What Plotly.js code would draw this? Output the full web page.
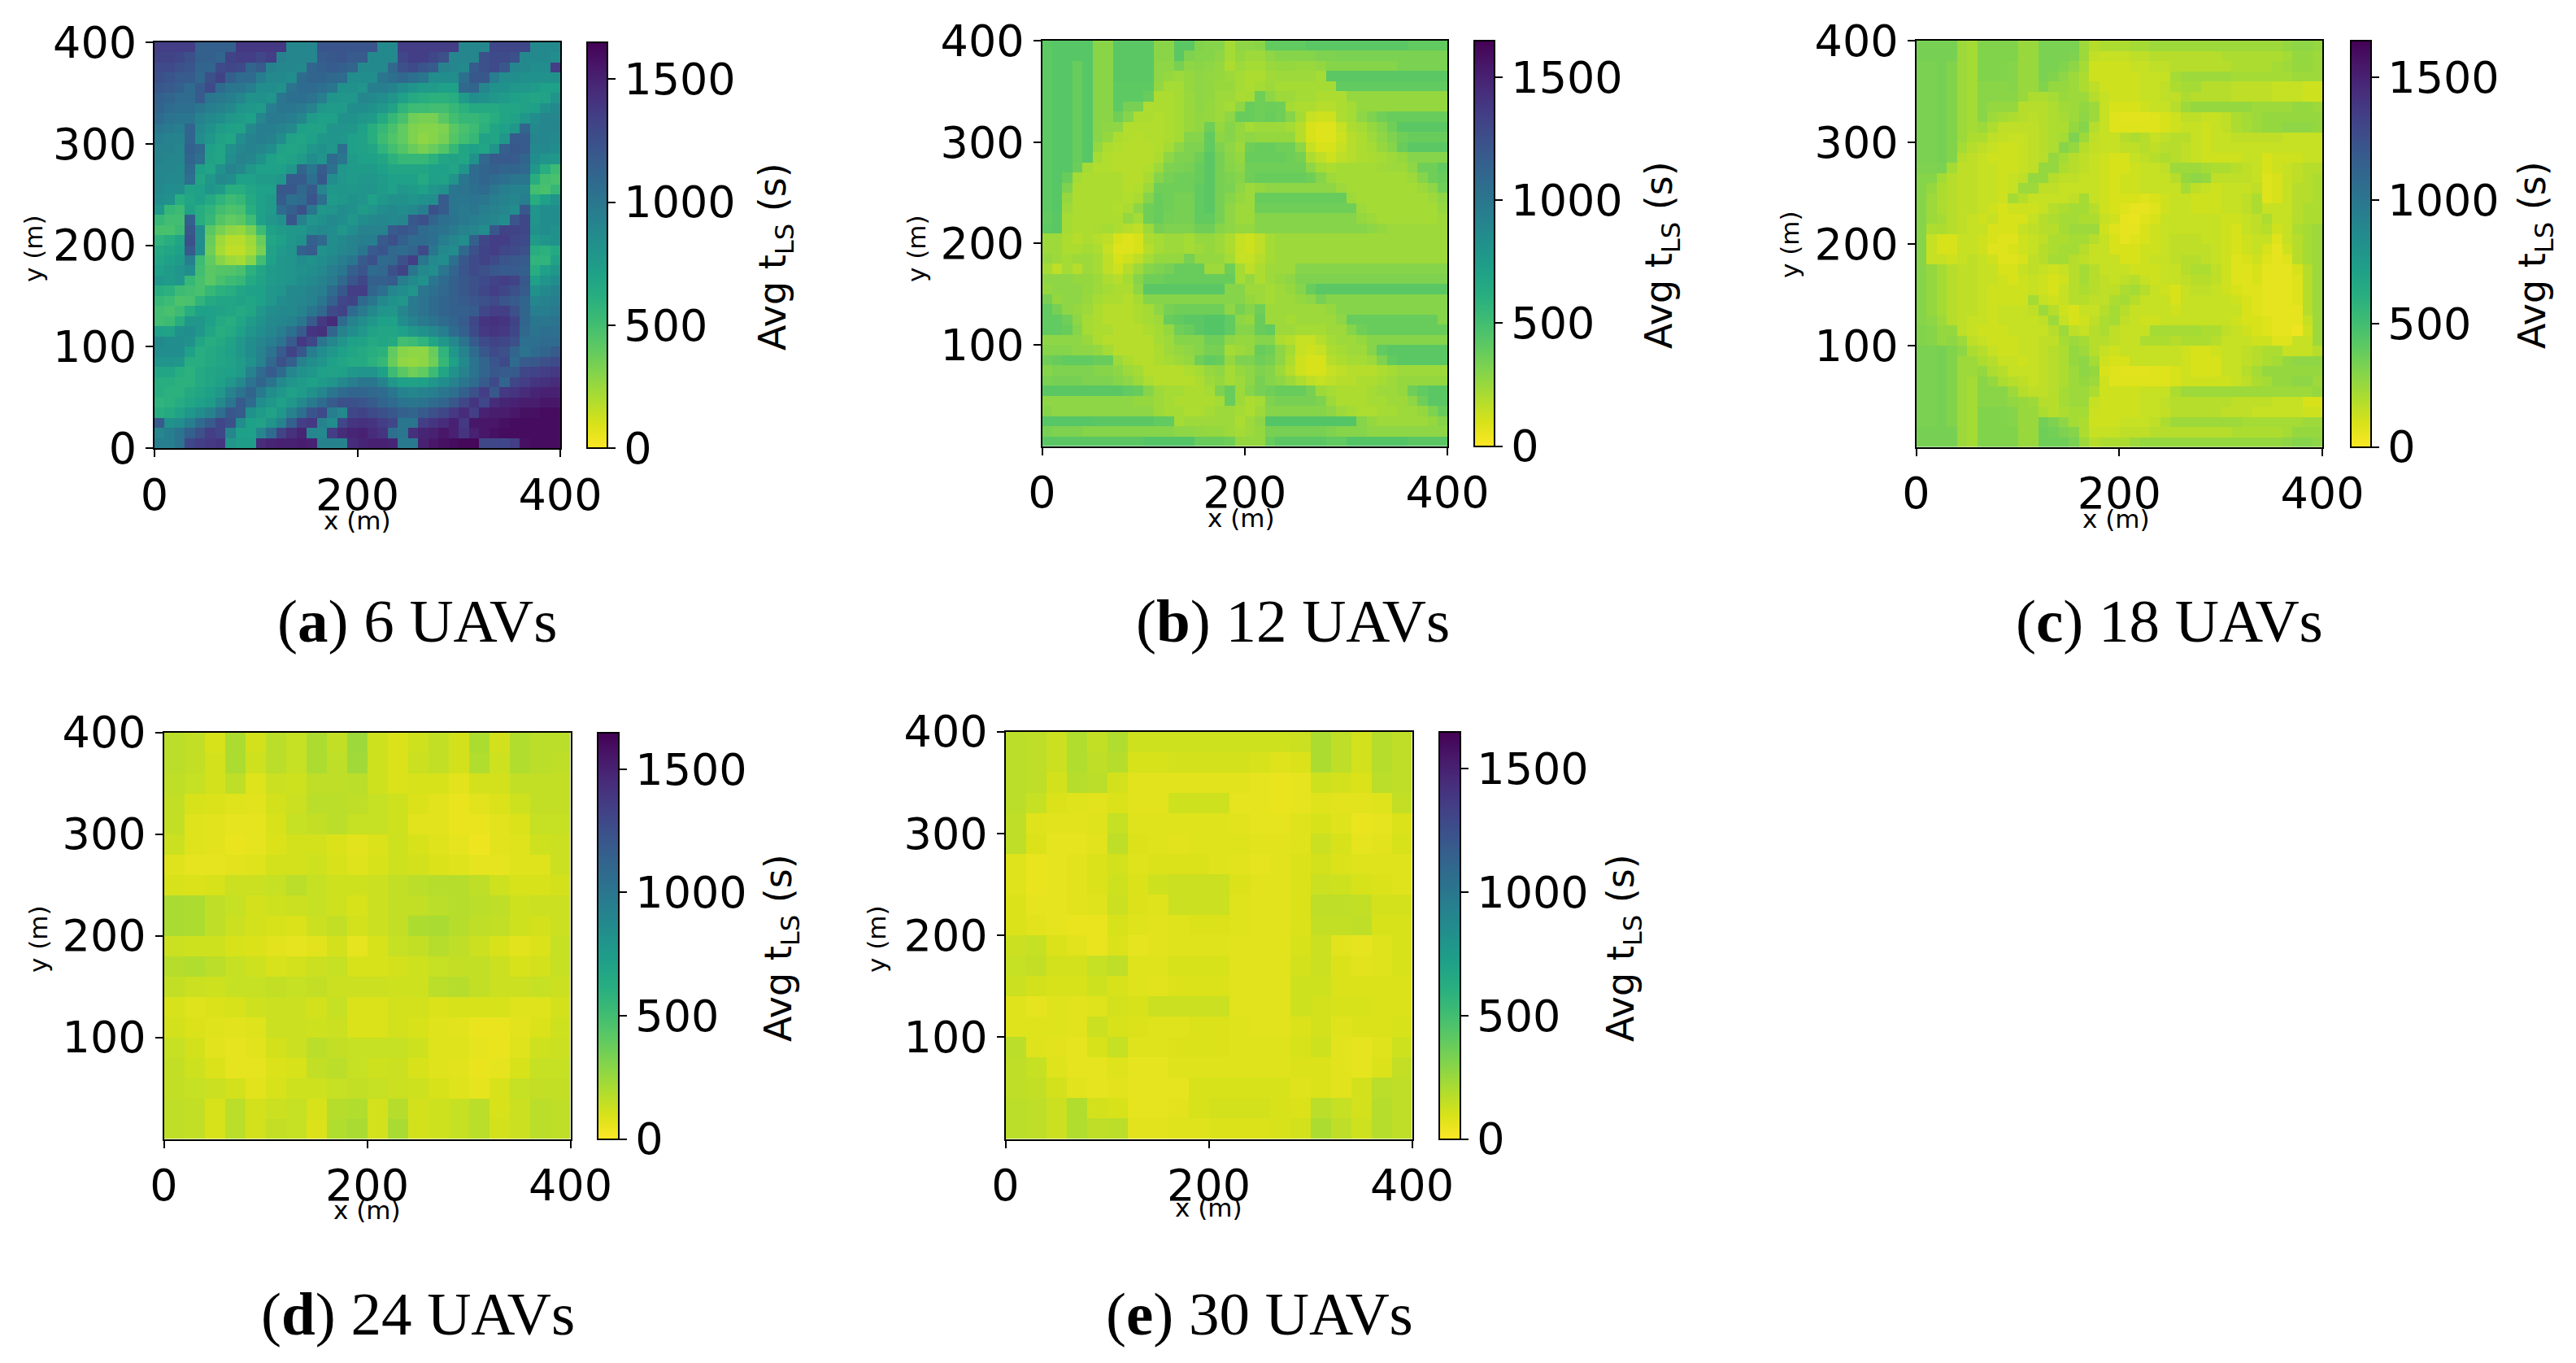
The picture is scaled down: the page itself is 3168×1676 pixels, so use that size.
<!DOCTYPE html>
<html><head><meta charset="utf-8">
<script src="https://cdn.plot.ly/plotly-3.0.1.min.js"></script>
<style>html,body{margin:0;padding:0;background:#fff}</style></head>
<body><div id="chart" style="width:3168px;height:1676px"></div>
<script>
// All grids: rows listed from top (y high) to bottom (y low), values in tens of seconds.
const heatA = [
[135,135,135,135,115,115,115,115,138,138,138,138,138,90,90,90,122,122,122,122,122,122,88,88,135,135,135,135,135,135,90,90,90,130,130,130,130,88,88,88],
[132,132,130,125,115,115,112,132,135,135,130,135,92,90,90,90,118,120,122,118,118,88,88,88,130,135,135,130,125,90,90,90,125,128,128,125,88,88,88,85],
[128,128,125,122,112,112,128,130,128,112,118,92,90,90,88,112,115,118,115,112,88,88,88,110,125,128,122,118,92,90,88,118,125,128,120,90,88,85,85,135],
[125,122,118,118,110,125,132,115,108,108,95,88,88,85,108,112,112,110,108,85,85,85,100,105,110,105,100,85,85,85,105,120,120,95,85,85,82,82,82,82],
[120,118,115,108,118,128,108,100,100,95,85,85,82,102,108,108,105,100,82,82,80,95,95,92,85,80,75,75,72,72,110,112,90,82,82,78,78,75,72,72],
[115,112,108,108,118,100,98,95,90,82,82,80,100,105,105,102,95,80,78,78,90,88,85,80,72,65,62,60,60,62,75,85,82,78,75,72,70,68,70,80],
[112,108,105,105,100,95,92,88,80,78,75,95,100,100,98,92,78,75,75,85,85,82,78,70,58,52,52,50,50,55,60,65,65,65,68,68,70,72,82,88],
[108,102,100,100,92,88,85,78,75,72,90,98,98,95,90,75,72,72,82,82,78,75,65,55,48,36,34,34,42,50,55,55,58,62,68,70,78,85,90,90],
[100,98,95,112,88,82,75,72,70,88,95,95,92,88,72,70,70,80,80,78,72,62,55,48,40,32,30,30,32,42,48,52,60,68,72,78,112,88,90,90],
[95,92,92,112,85,78,70,68,85,92,95,92,85,70,68,72,78,80,78,72,70,62,52,45,40,32,28,30,34,44,50,55,70,68,78,118,118,90,90,88],
[92,92,90,115,110,72,68,82,90,92,90,85,70,68,70,78,82,78,105,72,70,68,58,50,44,38,34,38,44,55,68,72,68,80,115,120,118,88,88,85],
[92,90,90,112,105,70,68,85,92,90,82,72,68,70,75,85,80,108,100,75,72,72,68,60,55,55,55,60,68,70,68,82,110,118,118,118,112,85,80,78],
[90,90,88,108,72,68,82,92,88,78,72,72,72,78,112,100,118,105,78,75,75,75,72,68,68,68,68,72,72,68,80,108,112,115,112,112,110,78,62,52],
[90,88,88,105,68,78,88,85,72,72,75,75,78,118,118,105,120,85,78,75,78,78,75,72,72,72,65,72,70,80,100,108,112,108,105,100,100,62,50,48],
[88,85,85,70,72,80,75,62,62,68,72,72,120,120,110,118,90,78,80,78,80,80,75,72,78,75,72,78,82,100,102,105,108,100,95,92,92,50,48,55],
[85,82,62,68,72,65,58,52,55,65,72,75,118,105,108,122,105,75,78,82,80,72,78,82,82,80,82,85,118,100,100,102,100,95,92,90,95,62,72,80],
[78,55,52,70,62,58,50,46,48,62,72,75,108,115,125,100,78,80,85,82,75,80,85,88,85,88,95,125,118,100,98,100,95,92,90,85,120,80,85,85],
[55,50,50,115,62,55,44,40,42,52,72,78,82,122,92,80,82,88,85,78,85,88,90,88,90,120,125,112,105,102,98,95,92,90,85,122,130,80,85,85],
[48,48,52,120,85,42,34,28,26,34,52,72,75,78,78,85,88,85,78,85,92,92,92,118,122,118,108,105,102,98,92,90,85,120,132,132,130,82,85,82],
[58,62,68,125,85,38,24,18,18,24,38,68,72,78,82,115,110,85,88,92,95,95,118,125,115,108,108,105,95,90,85,115,130,135,135,130,128,75,80,82],
[65,68,72,118,85,36,22,16,16,22,34,70,76,80,115,118,82,85,90,92,100,118,122,110,108,112,128,100,88,85,110,125,132,135,130,128,125,62,60,65],
[68,72,75,95,52,40,30,24,22,30,50,72,78,80,85,82,85,90,95,100,118,125,108,110,125,135,100,88,85,105,120,128,132,128,122,120,118,58,58,70],
[72,75,80,85,50,42,44,45,48,60,68,75,78,80,82,85,88,95,100,115,122,108,110,125,132,100,88,85,100,112,122,128,125,120,118,118,115,62,72,78],
[78,75,78,55,48,42,48,52,55,65,70,75,78,80,85,88,92,98,110,122,130,115,115,118,95,88,82,100,108,115,120,125,128,132,135,132,120,72,80,85],
[62,60,52,50,48,55,60,62,68,72,72,78,80,88,88,92,95,108,120,135,135,112,105,90,85,80,100,105,110,115,120,125,130,135,130,125,118,82,88,92],
[55,52,46,48,58,65,68,68,70,68,72,78,85,88,90,92,100,115,130,132,108,100,88,82,78,98,102,108,112,115,118,122,125,128,122,118,112,90,92,95],
[50,48,52,62,72,72,70,68,65,68,78,85,88,88,92,100,110,128,132,108,98,88,80,78,90,98,102,108,112,115,115,118,130,135,135,125,112,95,95,98],
[50,52,62,78,78,72,65,62,68,75,82,88,90,92,100,118,138,145,108,92,85,78,72,72,85,92,98,102,108,112,118,130,140,142,140,132,112,100,100,102],
[72,70,82,85,78,68,62,65,72,80,85,90,95,105,118,140,142,112,92,85,78,70,68,68,72,78,82,88,95,108,115,128,138,140,138,130,110,102,105,105],
[88,85,85,82,68,62,65,70,78,85,90,95,102,118,138,130,100,90,80,72,70,65,68,65,50,52,58,68,78,88,102,118,128,132,130,125,105,105,108,108],
[85,85,85,72,62,65,68,72,78,85,92,102,118,132,120,95,85,78,72,68,65,62,60,40,30,28,28,38,58,78,92,108,120,128,125,112,102,108,112,118],
[80,80,78,62,62,65,68,70,75,82,92,110,125,115,92,85,80,72,68,65,65,60,55,38,28,26,28,36,55,72,88,102,112,122,128,108,118,120,125,128],
[68,68,62,60,65,68,70,72,75,92,108,118,108,90,82,78,72,70,72,78,80,80,72,52,42,36,40,52,68,82,92,102,112,120,118,118,130,132,135,138],
[62,62,60,60,65,68,72,78,88,102,112,102,88,80,75,72,75,80,88,95,100,100,92,78,72,70,72,78,85,92,100,108,118,128,112,130,135,140,142,145],
[62,60,60,65,68,72,78,92,102,112,98,85,78,72,75,82,90,100,108,112,112,110,108,100,92,90,92,95,100,105,115,125,135,120,138,140,145,148,150,150],
[58,60,64,68,72,75,88,100,118,108,85,78,72,78,88,98,108,118,125,125,122,118,112,108,102,100,102,108,112,120,130,140,130,145,148,150,152,152,155,155],
[62,65,70,78,85,92,105,120,118,82,75,70,78,92,105,122,128,95,88,130,132,128,125,120,115,112,118,125,130,138,145,135,150,152,152,155,158,158,160,160],
[118,82,85,95,108,118,130,125,85,72,70,80,92,115,135,138,92,85,130,140,142,140,135,130,100,100,135,140,145,150,138,155,155,155,158,160,160,160,160,160],
[90,95,102,115,125,135,130,90,72,72,90,108,132,142,148,90,88,135,145,148,150,145,140,105,100,142,148,150,155,150,140,150,155,158,160,160,160,160,160,160],
[95,95,102,130,135,138,140,78,74,74,145,148,150,150,152,150,92,92,92,145,148,150,150,148,98,98,150,155,158,160,162,162,130,130,130,135,158,160,160,160]
];
const heatB = [
[41,43,43,43,43,29,29,42,42,42,42,29,29,42,42,31,30,30,22,28,28,29,40,40,40,40,42,42,42,42,42,42,42,42,42,42,40,40,40,40],
[41,43,43,43,43,29,29,42,42,42,42,29,29,42,32,30,30,28,22,26,24,24,28,30,30,30,30,32,32,33,33,33,33,33,33,33,33,33,33,33],
[41,43,43,38,43,29,29,42,42,42,42,28,28,34,28,29,28,26,20,24,22,22,25,26,26,25,25,27,30,30,30,30,30,30,30,33,33,33,33,33],
[41,43,43,38,43,29,29,42,42,42,42,28,26,24,26,28,27,26,24,22,20,20,23,24,24,24,24,22,42,42,42,42,42,42,42,42,42,42,42,42],
[41,43,43,38,43,29,29,41,41,41,41,27,22,22,26,28,27,25,25,22,20,22,24,22,22,22,22,22,22,40,40,40,40,40,40,40,40,40,40,40],
[41,43,43,38,43,29,29,41,41,41,38,20,20,22,25,28,27,24,24,21,22,36,28,24,24,22,22,20,20,20,26,26,26,26,26,26,26,26,26,26],
[41,43,43,38,43,29,29,41,34,34,20,20,20,22,25,28,26,24,22,28,38,36,37,36,22,20,20,18,18,20,22,26,26,26,26,26,26,26,26,26],
[41,43,43,38,43,29,29,36,30,20,20,19,20,22,25,27,26,24,28,38,38,36,38,36,30,22,14,12,12,20,22,28,32,36,38,38,38,38,38,38],
[41,43,43,38,43,29,28,28,19,19,19,19,20,22,25,27,36,26,30,26,22,24,24,24,22,18,10,8,8,14,20,22,26,30,36,42,42,42,42,42],
[41,43,43,38,43,29,26,20,19,18,19,19,20,22,30,30,40,28,30,26,28,26,26,26,26,18,10,8,8,12,18,20,24,28,32,36,38,38,38,38],
[41,43,43,38,43,26,20,19,18,18,18,19,22,28,32,32,40,32,28,24,36,38,38,36,36,28,14,10,10,14,18,20,22,26,30,38,42,42,42,42],
[41,43,43,38,43,22,19,18,18,18,18,20,28,32,32,36,42,34,29,26,38,38,38,38,36,34,20,16,12,16,18,20,21,22,24,26,30,30,30,30],
[41,43,43,37,22,19,19,18,18,18,19,24,32,33,34,38,42,34,30,28,36,36,36,36,36,36,28,22,20,22,22,22,22,23,24,24,28,36,36,40],
[41,43,38,22,20,20,20,20,18,18,21,30,34,36,36,38,42,34,32,30,36,38,38,38,38,38,36,30,24,22,22,22,22,22,22,22,24,30,36,38],
[41,43,32,20,20,20,20,20,18,19,24,36,36,36,36,40,42,34,33,28,24,26,28,28,28,28,28,28,28,24,22,22,22,22,22,22,22,24,28,36],
[41,43,26,20,20,20,20,20,19,21,30,38,36,34,34,40,42,34,30,26,24,38,38,38,38,38,38,38,38,38,24,22,22,22,22,22,22,22,24,28],
[41,43,24,20,20,20,20,19,21,28,36,38,36,34,34,40,42,34,28,24,24,36,36,36,36,36,36,36,36,36,36,24,22,22,22,22,22,22,22,26],
[40,42,22,20,20,20,20,20,26,22,36,38,35,34,34,40,40,34,28,24,24,30,30,30,30,30,30,30,30,30,30,26,24,22,22,22,22,22,22,24],
[41,42,22,20,20,21,22,20,18,16,24,34,32,32,32,36,36,30,28,26,26,30,30,30,30,30,30,30,30,30,30,30,28,26,24,24,24,24,24,24],
[24,24,20,18,20,18,16,10,8,10,20,22,24,24,22,26,26,24,20,14,12,16,22,24,24,24,24,24,24,24,24,24,24,24,24,24,24,24,24,24],
[24,24,20,20,22,20,14,8,8,10,18,22,24,24,22,24,26,24,20,14,12,16,22,24,24,24,24,24,24,24,24,24,24,24,24,24,24,24,24,24],
[26,24,22,24,24,22,16,10,12,16,22,26,26,26,34,26,26,26,22,14,14,18,22,24,24,24,24,24,24,24,24,24,24,24,24,24,24,24,24,24],
[22,16,22,18,24,22,16,12,18,24,30,32,34,38,38,38,24,24,36,22,16,20,24,24,24,30,30,30,30,30,30,30,30,30,30,30,30,30,30,30],
[28,28,28,26,26,24,20,18,22,30,36,36,38,38,38,38,38,38,38,22,26,20,24,26,28,32,32,32,32,32,32,32,32,32,32,32,32,32,32,32],
[26,28,28,28,26,24,22,20,20,28,42,42,42,42,42,42,42,42,30,30,24,24,22,24,26,30,38,42,42,42,42,42,42,42,42,42,42,42,42,42],
[34,26,28,28,25,22,20,20,18,22,30,30,30,30,30,30,30,30,30,30,26,24,22,24,24,26,28,34,30,30,30,30,30,30,30,30,30,30,30,30],
[40,34,28,26,24,20,18,18,18,20,22,28,34,36,36,36,36,36,28,34,30,36,24,24,24,24,24,24,26,30,30,30,30,30,30,30,30,30,30,30],
[40,40,36,28,22,20,18,18,18,20,22,24,38,40,42,42,44,44,40,28,26,38,24,24,22,24,24,24,24,28,38,38,38,38,38,38,38,38,38,30],
[40,40,38,30,22,20,20,18,18,18,20,22,26,36,38,42,44,44,40,30,30,38,40,24,24,22,22,22,24,24,30,36,38,38,38,38,38,38,38,38],
[28,28,28,28,25,20,18,18,18,18,18,22,24,30,30,30,36,36,28,26,26,30,30,20,18,14,14,18,22,24,24,26,30,30,30,30,30,30,30,30],
[30,30,30,28,28,26,22,18,18,18,18,20,24,26,28,30,34,34,22,24,26,38,36,28,22,14,12,14,20,22,24,24,30,40,42,42,42,42,42,42],
[36,38,40,40,40,38,38,24,20,18,18,20,22,24,26,36,40,38,26,32,32,36,34,28,20,12,10,10,18,20,22,22,24,32,40,42,42,42,42,42],
[30,32,32,32,32,30,30,28,24,22,18,18,18,18,20,22,26,28,22,26,28,32,30,24,18,12,10,10,14,16,18,18,18,20,22,24,24,24,24,24],
[33,34,34,34,32,32,32,30,28,24,20,18,18,18,18,20,24,26,22,24,28,34,30,28,24,20,16,14,16,18,18,20,20,22,24,26,26,26,26,26],
[42,42,42,42,42,42,42,42,40,38,30,24,22,22,20,20,22,32,38,24,30,34,36,38,38,38,34,24,22,20,20,20,22,24,24,26,36,40,42,42],
[28,28,28,28,28,28,28,28,28,26,26,24,22,20,20,20,20,22,38,24,20,22,32,34,34,34,34,32,24,20,20,20,22,22,24,24,28,36,42,42],
[30,28,28,28,28,28,28,28,28,28,28,24,22,22,20,20,22,24,24,22,20,24,30,30,30,30,30,30,28,24,22,20,20,22,22,24,24,26,32,38],
[43,43,43,43,43,42,42,42,42,42,42,40,40,22,24,24,24,24,24,20,24,28,44,44,44,44,44,44,44,44,44,30,26,24,24,24,24,24,26,30],
[34,32,32,32,30,30,30,30,30,30,30,30,30,28,28,27,26,26,24,22,24,26,34,34,34,34,34,34,32,30,30,30,28,28,28,28,28,28,28,28],
[42,42,42,42,42,42,42,42,42,42,44,44,44,44,44,38,38,38,36,26,26,26,38,42,42,42,42,42,40,40,44,44,44,44,44,44,42,42,42,42]
];
const heatC = [
[34,34,34,34,24,22,31,31,31,31,25,25,33,33,33,33,24,18,20,20,20,22,22,24,24,24,24,24,24,24,24,24,24,24,24,24,26,28,28,26],
[34,34,34,34,24,22,31,31,31,31,25,25,33,33,33,32,24,15,14,14,14,16,16,18,18,18,18,18,18,18,20,20,20,20,20,20,22,26,26,24],
[33,33,34,31,24,22,31,31,31,30,25,25,33,33,31,28,22,12,12,12,12,14,14,16,16,18,18,18,18,18,18,20,20,20,20,22,24,26,26,24],
[33,33,34,31,24,22,31,31,31,30,25,25,33,31,28,24,20,12,12,12,12,12,14,14,14,22,24,24,24,24,24,22,22,22,22,22,22,24,24,24],
[33,33,34,31,24,22,29,29,29,30,25,25,31,26,26,24,20,16,12,12,12,12,14,14,16,20,22,22,18,18,18,16,16,16,16,14,14,14,12,12],
[33,33,34,31,24,22,29,29,29,29,25,20,20,22,25,24,24,18,14,12,12,12,14,14,16,16,20,18,18,18,18,16,16,16,16,14,14,14,12,12],
[33,33,34,31,24,22,29,26,26,26,18,18,18,20,23,24,27,24,14,10,10,10,12,14,14,18,24,26,26,26,26,26,26,24,24,24,24,26,26,24],
[33,33,34,31,24,22,29,24,22,20,18,17,18,20,22,24,28,24,14,8,7,7,7,8,10,12,16,16,14,14,16,20,22,24,26,26,26,26,26,26],
[33,33,34,31,24,22,24,20,16,16,16,16,18,20,20,26,30,18,14,8,8,8,8,8,10,12,14,14,12,14,16,20,22,24,26,26,28,28,28,26],
[33,33,34,31,24,20,20,16,15,14,14,16,18,20,22,32,24,16,14,14,18,20,18,14,16,18,18,14,12,14,14,16,16,16,16,16,14,14,14,14],
[33,33,34,31,22,18,16,14,12,12,14,16,18,20,30,26,18,15,14,14,16,16,18,16,18,18,16,14,12,14,14,14,14,14,14,14,14,14,14,14],
[33,33,34,31,18,16,14,12,12,12,14,16,18,26,22,18,16,14,12,10,10,14,16,18,20,18,16,14,12,12,12,12,14,14,10,12,12,12,14,14],
[32,32,33,22,16,16,14,14,12,12,14,16,26,26,20,18,16,14,12,10,10,12,14,14,16,24,24,24,22,20,20,18,16,14,10,12,14,16,18,18],
[30,30,22,18,16,16,14,14,12,14,16,26,26,18,16,16,14,14,12,10,12,12,14,14,14,18,26,28,26,16,16,16,16,14,8,10,14,16,18,20],
[30,26,20,18,16,16,14,14,12,14,24,24,16,16,14,14,14,14,12,10,12,12,14,14,14,14,22,16,14,12,14,14,14,16,8,10,14,18,18,20],
[30,24,20,18,16,16,14,14,12,22,18,14,14,14,14,16,22,14,12,10,10,10,8,10,12,14,14,12,12,12,14,14,16,20,8,10,14,18,18,20],
[30,24,20,18,16,16,14,12,10,12,12,12,14,18,20,22,22,18,12,10,8,6,6,8,12,14,14,12,12,12,14,14,16,20,14,14,14,18,20,20],
[30,24,22,18,16,14,12,14,10,10,10,14,18,20,22,22,20,20,14,12,6,5,8,10,14,14,14,14,14,14,12,12,14,16,20,14,14,18,20,20],
[30,20,20,18,16,14,14,10,10,10,14,16,18,18,22,24,24,24,12,8,6,6,10,12,14,14,14,14,14,14,12,10,14,16,18,12,14,20,22,24],
[30,14,10,10,14,14,12,10,8,8,12,14,16,20,20,22,22,18,14,10,6,8,10,12,14,16,16,16,14,14,12,10,12,14,14,8,14,18,22,24],
[30,14,10,10,14,14,12,8,8,10,12,14,18,20,22,22,18,14,14,10,10,10,12,12,14,16,16,16,16,14,12,10,12,14,10,6,12,18,22,24],
[30,14,14,12,14,16,14,12,8,8,10,16,18,22,22,18,16,14,14,14,10,10,12,14,14,16,18,18,16,14,12,8,10,12,8,6,8,18,22,24],
[30,26,22,18,16,16,14,14,10,10,14,16,14,12,14,18,22,18,14,14,14,12,12,12,14,14,18,20,20,16,12,8,8,10,6,6,6,10,18,24],
[30,26,22,18,16,16,14,14,12,10,12,14,12,10,12,18,22,18,16,14,16,18,14,12,14,14,16,18,18,16,12,8,8,10,6,6,6,8,18,24],
[30,26,22,18,16,16,14,12,12,12,12,14,12,10,14,18,20,18,16,16,20,22,18,14,12,10,14,16,16,14,12,10,8,8,6,6,6,8,18,24],
[30,26,22,18,16,16,14,12,12,12,12,22,14,12,14,18,18,16,16,20,22,18,14,14,14,10,14,14,14,14,14,12,10,8,6,6,6,8,18,24],
[30,26,22,18,16,16,14,12,14,14,14,16,24,18,12,10,14,14,18,22,18,14,14,14,14,12,14,14,14,14,14,14,10,8,6,6,6,6,18,24],
[30,28,24,18,16,14,14,12,14,14,14,14,16,24,14,10,12,16,20,22,16,14,12,12,14,14,14,14,14,14,14,12,10,10,8,6,6,6,14,24],
[31,30,26,26,16,14,12,12,12,14,14,14,14,18,24,16,14,18,20,16,14,14,14,22,22,22,22,22,20,20,16,14,12,10,8,6,6,4,12,24],
[31,30,26,28,24,16,14,12,12,12,14,14,16,16,22,24,22,18,18,16,14,14,20,20,20,18,20,20,20,18,14,14,14,12,12,8,8,14,14,24],
[33,33,34,31,28,20,18,14,12,12,14,14,16,18,20,26,24,18,14,12,14,14,14,14,14,14,12,10,10,12,14,14,16,18,20,20,14,14,14,18],
[33,33,34,31,24,24,20,18,14,14,12,14,16,18,20,26,28,22,12,10,10,14,14,14,14,14,12,10,10,10,14,14,16,18,20,22,26,28,28,28],
[33,33,34,31,24,24,26,20,18,14,14,14,16,18,20,24,28,26,10,8,7,7,7,8,8,10,12,10,10,10,14,14,18,22,26,26,26,26,26,26],
[33,33,34,31,24,22,29,26,20,18,16,14,16,18,20,24,26,24,12,8,8,8,8,8,8,10,12,12,12,12,12,14,16,20,22,26,26,28,28,24],
[33,33,34,31,24,22,29,29,29,24,18,16,16,18,22,24,24,20,12,12,12,12,14,14,14,20,24,24,24,24,24,24,24,24,24,24,24,24,24,26],
[33,33,34,31,24,22,29,29,29,27,25,24,18,18,22,24,24,14,12,12,12,12,14,14,16,18,18,18,18,18,18,16,16,16,16,14,14,14,10,10],
[33,33,34,31,24,22,31,31,31,30,25,25,20,18,20,22,22,13,12,12,12,12,14,14,15,18,18,18,18,18,16,16,16,14,14,14,14,14,12,12],
[33,33,34,31,24,22,31,31,31,30,25,25,35,32,28,22,20,12,12,12,14,14,14,16,20,24,24,24,24,24,24,24,22,22,22,22,22,22,24,24],
[34,34,34,34,24,22,31,31,31,31,25,25,36,35,32,30,20,14,14,14,16,16,16,18,18,18,18,18,18,18,18,20,20,20,20,20,22,26,26,26],
[34,34,34,34,24,22,31,31,31,31,25,25,36,36,36,33,24,18,20,20,20,24,26,26,26,26,26,26,26,26,26,26,26,26,26,26,28,30,30,28]
];
const heatD = [
[17,15,10,20,11,17,14,20,15,24,12,9,12,15,11,20,11,19,17,17],
[17,15,11,20,12,17,14,20,16,23,12,9,13,15,11,19,12,19,17,16],
[16,14,11,16,8,13,12,16,16,17,12,9,10,10,7,11,11,15,15,15],
[15,10,9,8,7,11,13,17,17,16,14,12,9,7,5,7,9,12,15,15],
[15,8,7,6,6,10,14,15,17,14,14,12,7,7,5,5,7,9,14,14],
[13,8,7,5,6,9,11,11,9,7,9,12,10,8,6,4,7,8,12,13],
[8,6,6,7,8,11,11,12,10,8,10,12,11,9,8,6,6,8,8,13],
[10,9,10,13,13,14,17,14,12,12,13,15,17,18,18,16,12,10,10,11],
[21,20,16,14,11,12,13,14,12,10,13,15,15,17,18,17,16,12,13,13],
[21,20,16,13,11,10,9,13,15,11,13,15,20,21,18,16,15,12,11,13],
[13,12,12,10,9,7,6,7,11,6,10,14,15,18,16,13,10,7,9,14],
[18,19,17,14,12,10,11,13,14,10,10,11,12,14,15,15,13,10,11,14],
[15,13,12,14,14,15,14,15,13,13,13,12,12,17,18,15,13,13,14,13],
[10,8,9,10,12,13,13,11,14,9,9,11,11,9,10,10,10,8,8,11],
[11,9,8,7,8,13,13,12,13,9,9,11,10,8,7,5,5,7,9,12],
[14,11,7,6,7,11,13,17,15,14,14,14,12,8,8,6,5,8,12,13],
[15,12,9,6,6,9,10,15,17,14,12,13,10,8,7,5,6,10,14,14],
[15,14,13,11,7,10,12,12,14,15,14,13,12,10,8,6,10,14,15,15],
[16,15,10,17,11,13,14,10,18,19,11,18,11,12,14,17,10,13,17,16],
[16,15,10,17,11,15,14,9,19,21,11,21,11,12,14,17,11,13,17,16]
];
const heatE = [
[17,16,13,19,15,19,12,12,12,12,12,12,12,12,13,20,16,11,18,16],
[17,16,13,19,16,18,10,10,11,11,11,11,10,8,9,20,16,11,18,16],
[17,16,11,18,17,11,7,7,7,7,7,7,6,5,6,12,11,9,17,16],
[17,14,9,8,7,9,7,7,12,12,12,6,6,5,6,8,7,7,8,15],
[16,8,7,7,8,14,8,8,8,8,8,7,6,6,8,10,8,5,6,9],
[16,9,6,6,7,16,9,8,7,8,8,8,7,7,8,13,10,6,7,10],
[8,5,6,7,9,11,8,9,9,9,8,7,6,7,9,11,9,8,8,8],
[8,5,6,7,9,12,9,12,13,13,13,9,7,7,9,13,12,10,9,8],
[9,6,6,7,8,13,9,8,13,13,13,8,7,7,9,16,16,15,11,11],
[9,7,6,5,5,10,8,7,8,9,9,8,7,7,9,15,15,16,10,10],
[13,14,9,7,5,9,6,7,8,8,8,7,7,7,10,13,7,6,8,10],
[14,15,11,11,14,16,8,8,10,10,10,7,7,7,11,13,9,7,8,10],
[13,11,10,10,12,10,8,7,9,9,9,7,7,7,12,12,9,9,9,9],
[8,6,8,7,8,11,10,13,13,13,13,7,7,7,12,11,10,10,9,9],
[8,8,8,7,13,10,9,8,8,9,9,8,7,7,9,11,8,9,9,10],
[17,8,7,6,10,14,8,8,9,9,9,8,8,8,10,12,7,6,8,12],
[16,14,8,6,6,8,6,6,8,8,8,8,8,8,9,9,7,6,9,15],
[16,15,11,7,6,7,6,6,6,10,10,10,10,10,8,9,7,11,17,16],
[17,16,13,19,11,10,6,6,7,10,11,11,11,10,9,17,14,11,18,16],
[17,16,13,19,16,17,7,7,8,8,9,9,9,10,11,20,16,12,18,16]
];
const captions = ["(<b>a</b>) 6 UAVs","(<b>b</b>) 12 UAVs","(<b>c</b>) 18 UAVs","(<b>d</b>) 24 UAVs","(<b>e</b>) 30 UAVs"];
const colorTicks = [0,500,1000,1500];
const xTicks = [0,200,400];
const yTicksA = [0,100,200,300,400];
const yTicksRest = [100,200,300,400];

const W=3168,H=1676;
const panels=[
 {g:heatA,cell:10,ax:[190,689,52,551],cb:[722,747],xl:[439,640],yl:[41,306],al:[953,316],cap:[513,763],yt:yTicksA},
 {g:heatB,cell:10,ax:[1281.5,1780,50,548.5],cb:[1813,1838],xl:[1526,637],yl:[1127,306],al:[2043,314],cap:[1590,763],yt:yTicksRest},
 {g:heatC,cell:10,ax:[2356.5,2856,50,549.5],cb:[2891,2916],xl:[2602,638],yl:[2201,301],al:[3117,314],cap:[2668,763],yt:yTicksRest},
 {g:heatD,cell:20,ax:[201.5,701.5,900.5,1400.5],cb:[735,761],xl:[451,1488],yl:[47,1155],al:[960,1166],cap:[514,1615],yt:yTicksRest},
 {g:heatE,cell:20,ax:[1236.5,1736.5,899.5,1400.5],cb:[1770,1796],xl:[1486,1485],yl:[1078,1155],al:[1996,1166],cap:[1549,1615],yt:yTicksRest}
];
const F="DejaVu Sans";
const traces=[],layout={width:W,height:H,margin:{l:0,r:0,t:0,b:0},paper_bgcolor:"#fff",plot_bgcolor:"#fff",showlegend:false,annotations:[],font:{family:F,color:"#000"}};
function note(text,p,size,family,angle){layout.annotations.push({text:text,xref:"paper",yref:"paper",x:p[0]/W,y:1-p[1]/H,xanchor:"center",yanchor:"middle",showarrow:false,textangle:angle||0,font:{family:family||F,size:size,color:"#000"}});}
panels.forEach(function(p,i){
  const n=i+1, sx=n===1?"":n;
  const [x0,x1,y0,y1]=p.ax;
  traces.push({type:"heatmap",xaxis:"x"+sx,yaxis:"y"+sx,
    z:p.g.slice().reverse().map(r=>r.map(v=>v*10)),
    x0:p.cell/2,dx:p.cell,y0:p.cell/2,dy:p.cell,
    colorscale:"Viridis",reversescale:true,zmin:0,zmax:1650,zsmooth:false,hoverinfo:"skip",
    colorbar:{x:p.cb[0]/W,xanchor:"left",xpad:0,ypad:0,thickness:p.cb[1]-p.cb[0],thicknessmode:"pixels",
      y:1-y1/H,yanchor:"bottom",len:(y1-y0)/H,lenmode:"fraction",
      tickmode:"array",tickvals:colorTicks,ticks:"outside",ticklen:9,tickwidth:2,tickcolor:"#000",
      outlinewidth:2,outlinecolor:"#000",tickfont:{family:F,size:54,color:"#000"}}});
  const ax={showgrid:false,zeroline:false,showline:true,linecolor:"#000",linewidth:2,mirror:true,ticks:"outside",ticklen:9,tickwidth:2,tickcolor:"#000",tickfont:{family:F,size:54,color:"#000"},tickmode:"array",range:[0,400]};
  layout["xaxis"+sx]=Object.assign({},ax,{domain:[x0/W,x1/W],anchor:"y"+sx,tickvals:xTicks});
  layout["yaxis"+sx]=Object.assign({},ax,{domain:[1-y1/H,1-y0/H],anchor:"x"+sx,tickvals:p.yt});
  note("x (m)",p.xl,31);
  note("y (m)",p.yl,31,F,-90);
  note("Avg t<sub>LS</sub> (s)",p.al,46,F,-90);
  note(captions[i],p.cap,75,"Liberation Serif");
});
Plotly.newPlot("chart",traces,layout,{displayModeBar:false,responsive:false});
</script></body></html>
